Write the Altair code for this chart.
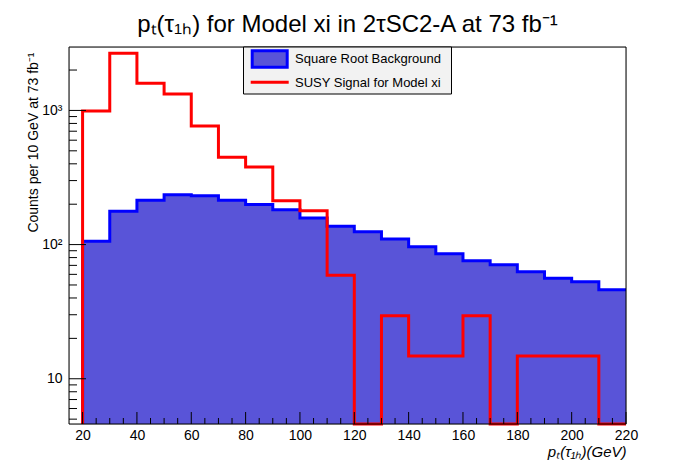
import altair as alt
import pandas as pd

# ---------------- data ----------------
edges = [20, 30, 40, 50, 60, 70, 80, 90, 100, 110, 120, 130, 140, 150, 160, 170, 180, 190, 200, 210, 220]
background = [106, 177.5, 214, 235, 231, 214, 199, 181.5, 158, 137,
              124.5, 110, 96.2, 85.3, 75.7, 70.7, 62.7, 56.2, 52.8, 46.0]
signal = [990, 2667, 1595, 1327, 766, 448, 379, 212, 179, 59.2,
          0, 29.5, 14.8, 14.8, 29.5, 0, 14.8, 14.8, 14.8, 0]

x_major = [20, 40, 60, 80, 100, 120, 140, 160, 180, 200, 220]
x_minor = [v for v in range(25, 220, 5) if v % 20 != 0]
y_major = [10, 100, 1000]
y_minor = [5, 6, 7, 8, 9, 20, 30, 40, 50, 60, 70, 80, 90,
           200, 300, 400, 500, 600, 700, 800, 900, 2000]
legend_labels = ["Square Root Background", "SUSY Signal for Model xi"]
title_text = "pₜ(τ₁ₕ) for Model xi in 2τSC2-A at 73 fb⁻¹"
x_title = "pₜ(τ₁ₕ)(GeV)"
y_title = "Counts per 10 GeV at 73 fb⁻¹"

# ---------------- build step tables ----------------
FLOOR = 1  # empty bins are drawn on the lower frame (scale is clamped)
area_df = pd.DataFrame({
    "x": edges[:-1] + [edges[-1]],
    "y": background + [background[-1]],
})
bg_line_df = pd.DataFrame({
    "x": [edges[0]] + edges[:-1] + [edges[-1]],
    "y": [FLOOR] + background + [background[-1]],
})
bg_line_df["i"] = range(len(bg_line_df))
sig_plot = [v if v > 0 else FLOOR for v in signal]
sig_df = pd.DataFrame({
    "x": [edges[0]] + edges[:-1] + [edges[-1]],
    "y": [FLOOR] + sig_plot + [sig_plot[-1]],
})
sig_df["i"] = range(len(sig_df))

W, H = 557, 377
FONT = "Liberation Sans"
FILL = "#5954d8"

xscale = alt.Scale(domain=[15, 220], nice=False, zero=False)
yscale = alt.Scale(type="log", domain=[4.6, 2970], nice=False, clamp=True)

x_axis = alt.Axis(values=x_major, format="d", labelFont=FONT, labelFontSize=14,
                  labelColor="black", labelPadding=4, labelFlush=False,
                  labelOverlap=False, ticks=False, domain=False, grid=False,
                  title=x_title, titleFont=FONT, titleFontSize=15,
                  titleFontStyle="italic", titleFontWeight="normal",
                  titleColor="black", titleAlign="right",
                  titleBaseline="alphabetic", titleX=W, titleY=32)
y_axis = alt.Axis(values=y_major,
                  labelExpr="datum.value == 10 ? '10' : (datum.value == 100 ? '10²' : '10³')",
                  labelFont=FONT, labelFontSize=14, labelColor="black",
                  labelPadding=7, labelFlush=False, labelOverlap=False,
                  ticks=False, domain=False, grid=False,
                  title=y_title, titleFont=FONT, titleFontSize=14,
                  titleFontWeight="normal", titleColor="black",
                  titleAngle=270, titleAlign="right", titleBaseline="alphabetic",
                  titleX=-32, titleY=5)


def X(field):
    return alt.X(field, scale=xscale, axis=x_axis)


def Y(field):
    return alt.Y(field, scale=yscale, axis=y_axis)


area = alt.Chart(area_df).mark_area(interpolate="step-after", color=FILL).encode(
    x=X("x:Q"), y=Y("y:Q"), y2=alt.value("height"),
)
bg_line = alt.Chart(bg_line_df).mark_line(
    interpolate="step-after", color="#0000ff", strokeWidth=3, strokeJoin="miter"
).encode(x=X("x:Q"), y=Y("y:Q"), order="i:Q")
sig_line = alt.Chart(sig_df).mark_line(
    interpolate="step-after", color="#ff0000", strokeWidth=3, strokeJoin="miter"
).encode(x=X("x:Q"), y=Y("y:Q"), order="i:Q")

# inward ticks, ROOT style
xt_major = alt.Chart(pd.DataFrame({"x": x_major})).mark_rule(color="black", strokeWidth=1).encode(
    x=X("x:Q"), y=alt.value(H), y2=alt.value(H - 12))
xt_minor = alt.Chart(pd.DataFrame({"x": x_minor})).mark_rule(color="black", strokeWidth=1).encode(
    x=X("x:Q"), y=alt.value(H), y2=alt.value(H - 6))
yt_major = alt.Chart(pd.DataFrame({"y": y_major})).mark_rule(color="black", strokeWidth=1).encode(
    y=Y("y:Q"), x=alt.value(0), x2=alt.value(17))
yt_minor = alt.Chart(pd.DataFrame({"y": y_minor})).mark_rule(color="black", strokeWidth=1).encode(
    y=Y("y:Q"), x=alt.value(0), x2=alt.value(8))

one = pd.DataFrame({"t": [""]})
frame = alt.Chart(one).mark_rect(fillOpacity=0, stroke="black", strokeWidth=1).encode(
    x=alt.value(0), x2=alt.value(W), y=alt.value(0), y2=alt.value(H))

# title drawn as text above the plot
title = alt.Chart(pd.DataFrame({"t": [title_text]})).mark_text(
    align="center", baseline="alphabetic", font=FONT, fontSize=24, color="black").encode(
    x=alt.value(W / 2), y=alt.value(-15), text="t:N")

# legend box
leg_box = alt.Chart(one).mark_rect(fill="#f2f2f2", stroke="black", strokeWidth=1).encode(
    x=alt.value(174.5), x2=alt.value(382.5), y=alt.value(0), y2=alt.value(47))
leg_swatch = alt.Chart(one).mark_rect(fill=FILL, stroke="#0000ff", strokeWidth=3).encode(
    x=alt.value(183.2), x2=alt.value(218.2), y=alt.value(3.8), y2=alt.value(20.2))
leg_line = alt.Chart(one).mark_rule(color="#ff0000", strokeWidth=3).encode(
    x=alt.value(181.7), x2=alt.value(219.7), y=alt.value(35.3))
leg_t1 = alt.Chart(pd.DataFrame({"t": [legend_labels[0]]})).mark_text(
    align="left", baseline="middle", font=FONT, fontSize=13, color="black").encode(
    x=alt.value(226), y=alt.value(12.3), text="t:N")
leg_t2 = alt.Chart(pd.DataFrame({"t": [legend_labels[1]]})).mark_text(
    align="left", baseline="middle", font=FONT, fontSize=13, color="black").encode(
    x=alt.value(226), y=alt.value(35.7), text="t:N")

chart = alt.layer(
    area, bg_line, sig_line, xt_major, xt_minor, yt_major, yt_minor,
    frame, title, leg_box, leg_swatch, leg_line, leg_t1, leg_t2,
).properties(
    width=W, height=H,
    autosize=alt.AutoSizeParams(type="none"),
    padding={"left": 61, "top": 39, "right": 62, "bottom": 40},
).configure_view(stroke=None).configure(background="white")

chart.save("out.html", embed_options={"renderer": "svg", "actions": False})
